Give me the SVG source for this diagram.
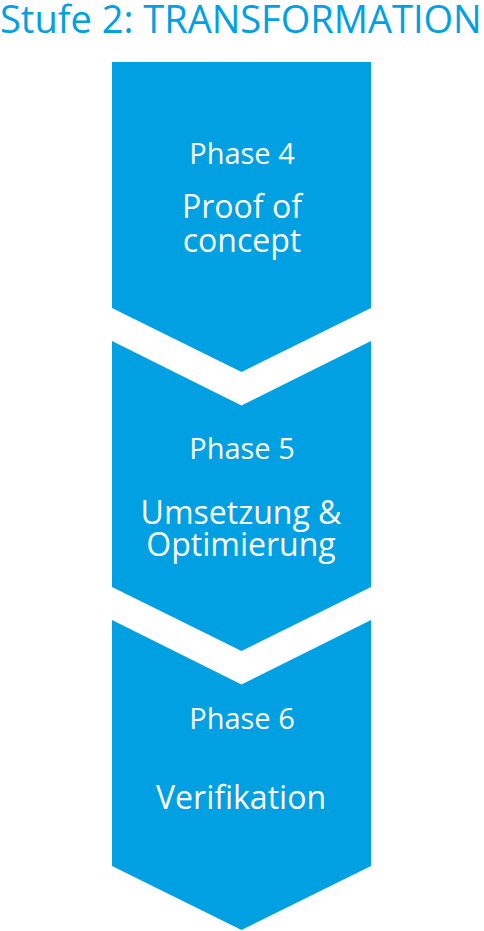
<svg xmlns="http://www.w3.org/2000/svg" width="484" height="931" viewBox="0 0 484 931">
<style>
.shape{fill:#00A0E3}
.t{font-family:"Open Sans","Noto Sans",sans-serif;fill:#fff;text-anchor:middle;font-size:29px}
.b{font-size:32px}
.title{font-family:"Open Sans","Noto Sans",sans-serif;fill:#00A0E3;font-size:38px}
</style>
<rect width="484" height="931" fill="#fff"/>
<text class="title" x="0" y="33">Stufe 2: TRANSFORMATION</text>
<g id="phase4">
<polygon class="shape" points="112,62 371,62 371,308 241.5,372 112,308"/>
<text class="t" x="242" y="163.5">Phase 4</text>
<text class="t b" x="242" y="217.5">Proof of</text>
<text class="t b" x="242" y="252">concept</text>
</g>
<g id="phase5">
<polygon class="shape" points="112,341 241.5,405.5 371,341 371,587 241.5,651 112,587"/>
<text class="t" x="242" y="458.5">Phase 5</text>
<text class="t b" x="241" y="523.5">Umsetzung &amp;</text>
<text class="t b" x="241" y="555.5">Optimierung</text>
</g>
<g id="phase6">
<polygon class="shape" points="112,620 241.5,684.5 371,620 371,866 241.5,930 112,866"/>
<text class="t" x="242" y="728.5">Phase 6</text>
<text class="t b" x="241" y="808.5">Verifikation</text>
</g>
<g id="connectors"/>
</svg>
